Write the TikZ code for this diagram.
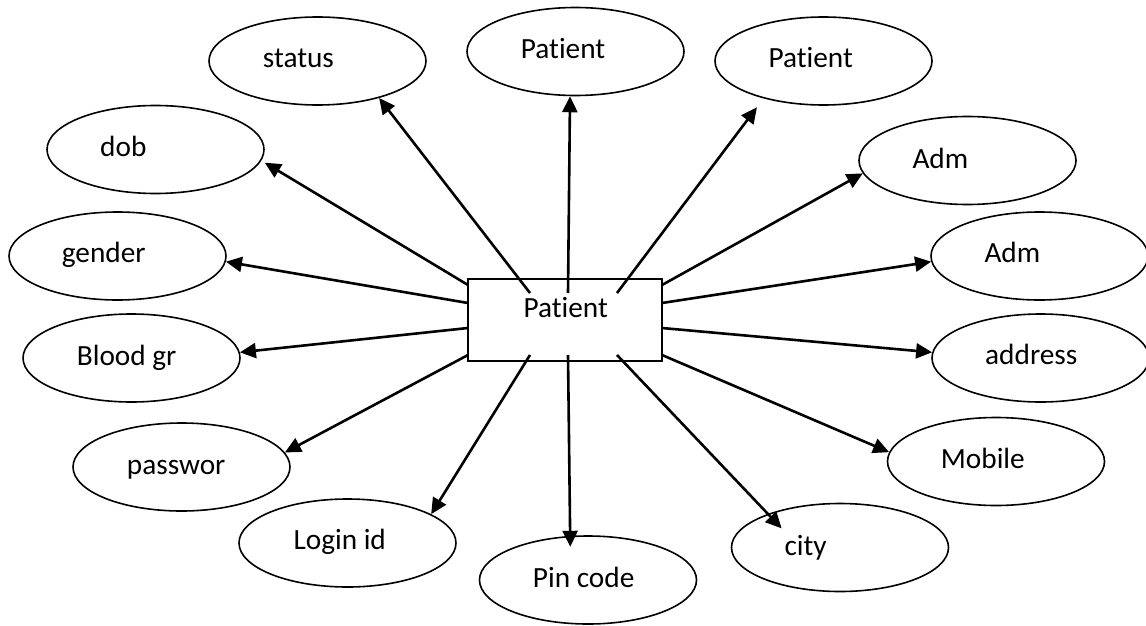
\documentclass[tikz,border=0pt]{standalone}
\usepackage{fontspec}
\setmainfont{Carlito}[Ligatures=NoCommon]
\usetikzlibrary{shapes.geometric,arrows.meta}

\tikzset{
  attr/.style={draw, ellipse, line width=1.6pt, minimum width=217pt, minimum height=88pt, inner sep=0pt},
  ent/.style={draw, rectangle, line width=1.6pt, minimum width=194pt, minimum height=82pt, inner sep=0pt},
  lbl/.style={anchor=base west, inner sep=0pt, font=\fontsize{29.3}{35}\selectfont},
  link/.style={-{Triangle[length=16pt,width=15pt]}, line width=2.6pt},
}

\begin{document}
\begin{tikzpicture}[x=1pt, y=-1pt]
\useasboundingbox (0,0) rectangle (1146,626);

% entity
\node[ent] (pat) at (565,320) {};
\node[lbl] (pat-t) at (523.3,317) {Patient};

% attributes
\node[attr] (status) at (317.5,61) {};
\node[attr] (pname) at (575.5,51.5) {};
\node[attr] (pname2) at (823.5,61) {};
\node[attr] (adm) at (967.5,160.5) {};
\node[attr] (adm2) at (1039.5,256) {};
\node[attr] (addr) at (1040.5,358) {};
\node[attr] (mob) at (996,461.5) {};
\node[attr] (city) at (840,547.5) {};
\node[attr] (pin) at (588,580) {};
\node[attr] (login) at (347.5,543) {};
\node[attr] (pwd) at (181.5,467) {};
\node[attr] (blood) at (131.5,358) {};
\node[attr] (gender) at (117.5,256) {};
\node[attr] (dob) at (155.5,149.5) {};

\node[lbl] (status-t) at (262.7,68) {status};
\node[lbl] (pname-t) at (520.7,59) {Patient};
\node[lbl] (pname2-t) at (768.3,68) {Patient};
\node[lbl] (adm-t) at (912.3,168) {Adm};
\node[lbl] (adm2-t) at (984.3,262) {Adm};
\node[lbl] (addr-t) at (985,364) {address};
\node[lbl] (mob-t) at (940.7,468) {Mobile};
\node[lbl] (city-t) at (784.3,555) {city};
\node[lbl] (pin-t) at (532.7,587) {Pin code};
\node[lbl] (login-t) at (293.3,549) {Login id};
\node[lbl] (pwd-t) at (126.7,474) {passwor};
\node[lbl] (blood-t) at (76.7,365) {Blood gr};
\node[lbl] (gender-t) at (61.7,262) {gender};
\node[lbl] (dob-t) at (100,156) {dob};

% where the links leave the box
\coordinate (s-status) at (530,293);
\coordinate (s-pname) at (568,293);
\coordinate (s-pname2) at (617,293);
\coordinate (s-adm) at (662,285);
\coordinate (s-adm2) at (662,303);
\coordinate (s-addr) at (662,328);
\coordinate (s-mob) at (662,355);
\coordinate (s-city) at (617,355);
\coordinate (s-pin) at (568,355);
\coordinate (s-login) at (530,355);
\coordinate (s-pwd) at (468,355);
\coordinate (s-blood) at (468,328);
\coordinate (s-gender) at (468,303);
\coordinate (s-dob) at (468,285);

\draw[link] (s-status) -- (status.-31);
\draw[link] (s-pname) -- (pname.-97);
\draw[link, shorten >=11pt] (s-pname2) -- (pname2.-148);
\draw[link] (s-adm) -- (adm.-173);
\draw[link] (s-adm2) -- (adm2.-177);
\draw[link] (s-addr) -- (addr.177);
\draw[link] (s-mob) -- (mob.175);
\draw[link, shorten >=-20pt] (s-city) -- (city.155);
\draw[link, shorten >=-11pt] (s-pin) -- (pin.112);
\draw[link] (s-login) -- (login.19);
\draw[link] (s-pwd) -- (pwd.8);
\draw[link] (s-blood) -- (blood.3);
\draw[link] (s-gender) -- (gender.-3);
\draw[link, shorten >=4pt] (s-dob) -- (dob.-6);

\end{tikzpicture}
\end{document}
